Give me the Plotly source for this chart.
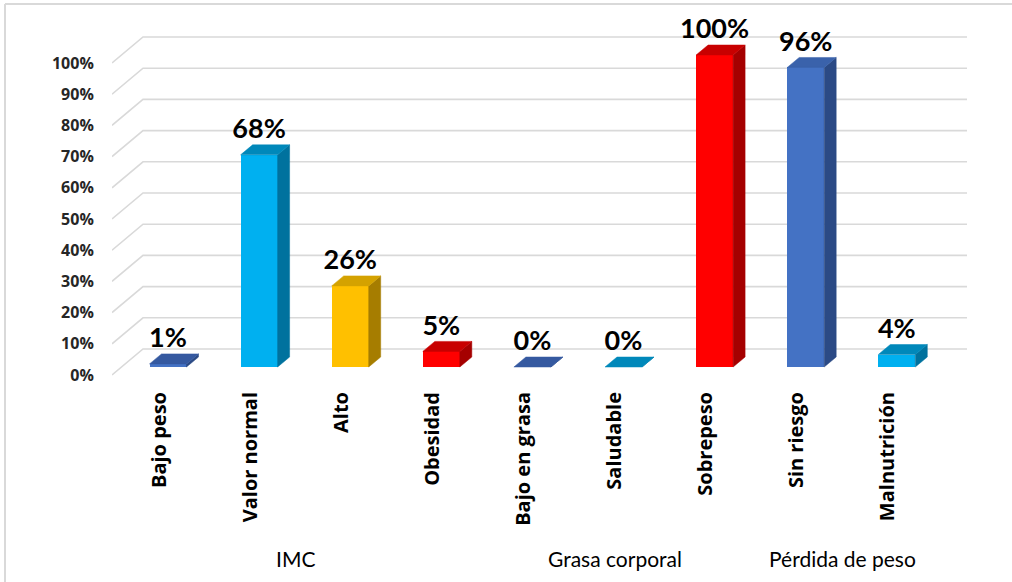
import plotly.graph_objects as go

# ---------------- data ----------------
categories = ["Bajo peso", "Valor normal", "Alto", "Obesidad", "Bajo en grasa",
              "Saludable", "Sobrepeso", "Sin riesgo", "Malnutrición"]
values = [1, 68, 26, 5, 0, 0, 100, 96, 4]
groups = ["IMC", "Grasa corporal", "Pérdida de peso"]
group_members = [[0, 1, 2, 3], [4, 5, 6], [7, 8]]
y_ticks = list(range(0, 101, 10))
y_tick_labels = [f"{t}%" for t in y_ticks]

# ---------------- style ----------------
front_colors = ["#4472C4", "#00B0F0", "#FFC000", "#FF0000", "#4472C4",
                "#00B0F0", "#FF0000", "#4472C4", "#00B0F0"]
side_colors = ["#2B4A85", "#00729E", "#A67D00", "#A50000", "#2B4A85",
               "#00729E", "#A50000", "#2B4A85", "#00729E"]
top_colors = ["#3559A0", "#0088BA", "#D4A200", "#C80000", "#3559A0",
              "#0088BA", "#C80000", "#3A62AB", "#0088BA"]

W, H = 1012, 582
ML, MR, MT, MB = 112, 37, 24, 200
PX_CAT = 91.1          # pixels per category
PX_PCT = 3.12          # pixels per percent
FIRST_CAT_PX = 168     # pixel x of first bar centre
ZERO_PX = 367          # pixel y of 0% on bar front plane

x0 = (ML - FIRST_CAT_PX) / PX_CAT
x1 = x0 + (W - ML - MR) / PX_CAT
y1 = (ZERO_PX - MT) / PX_PCT
y0 = y1 - (H - MT - MB) / PX_PCT

BAR_W = 37 / PX_CAT
DX = 12 / PX_CAT
DY = 10 / PX_PCT
FRONT_DY = -8 / PX_PCT
BACK_DY = 18 / PX_PCT
WALL_BACK_X = (143 - FIRST_CAT_PX) / PX_CAT
WALL_RIGHT_X = (967 - FIRST_CAT_PX) / PX_CAT
LABEL_SHIFT = -9 / PX_CAT

GRID = "#D9D9D9"

fig = go.Figure()

# back wall / side wall gridlines (below the bars)
for t in y_ticks:
    path = (f"M {x0} {t + FRONT_DY} L {WALL_BACK_X} {t + BACK_DY} "
            f"L {WALL_RIGHT_X} {t + BACK_DY}")
    fig.add_shape(type="path", path=path, xref="x", yref="y", layer="below",
                  line=dict(color=GRID, width=1.6))

# bars: front faces
xs = list(range(len(categories)))
fig.add_trace(go.Bar(x=xs, y=values, width=BAR_W,
                     marker=dict(color=front_colors, line=dict(width=0)),
                     hoverinfo="skip", showlegend=False))

# bars: side and top faces
for i, v in enumerate(values):
    r = i + BAR_W / 2
    l = i - BAR_W / 2
    fig.add_trace(go.Scatter(
        x=[r, r + DX, r + DX, r, r], y=[0, DY, v + DY, v, 0],
        mode="lines", fill="toself", fillcolor=side_colors[i],
        line=dict(width=0.5, color=side_colors[i]), hoverinfo="skip", showlegend=False))
    fig.add_trace(go.Scatter(
        x=[l, r, r + DX, l + DX, l], y=[v, v, v + DY, v + DY, v],
        mode="lines", fill="toself", fillcolor=top_colors[i],
        line=dict(width=0.5, color=top_colors[i]), hoverinfo="skip", showlegend=False))

# data labels
fig.add_trace(go.Scatter(
    x=xs, y=[v + DY for v in values], mode="text", cliponaxis=False,
    text=[f"{v}%" for v in values], textposition="top center",
    textfont=dict(family="Lato", size=27, color="#000000", weight="bold"),
    hoverinfo="skip", showlegend=False))

# group labels
for g, members in zip(groups, group_members):
    gxc = sum(members) / len(members) + LABEL_SHIFT
    fig.add_annotation(x=gxc, xref="x", y=1 - (558 - MT) / (H - MT - MB), yref="paper",
                       text=g, showarrow=False, yanchor="middle", xanchor="center",
                       font=dict(family="Lato", size=21, color="#000000"))

# chart border (top and left visible)
bx = lambda px: (px - ML) / (W - ML - MR)
by = lambda py: 1 - (py - MT) / (H - MT - MB)
fig.add_shape(type="line", xref="paper", yref="paper", x0=bx(5), x1=bx(W + 5), y0=by(4), y1=by(4),
              line=dict(color=GRID, width=2))
fig.add_shape(type="line", xref="paper", yref="paper", x0=bx(5), x1=bx(5), y0=by(4), y1=by(H + 5),
              line=dict(color=GRID, width=2))

fig.update_layout(
    width=W, height=H,
    margin=dict(l=ML, r=MR, t=MT, b=MB, pad=0),
    paper_bgcolor="white", plot_bgcolor="white",
    bargap=0, showlegend=False,
    xaxis=dict(range=[x0, x1], tickvals=[i + LABEL_SHIFT for i in xs], ticktext=categories,
               tickangle=-90, showgrid=False, zeroline=False, showline=False,
               ticks="outside", ticklen=1, tickcolor="rgba(0,0,0,0)",
               tickfont=dict(family="Open Sans", size=20, color="#000000", weight="bold"),
               fixedrange=True),
    yaxis=dict(range=[y0, y1], tickvals=[t + FRONT_DY for t in y_ticks], ticktext=y_tick_labels,
               showgrid=False, zeroline=False, showline=False,
               ticks="outside", ticklen=14, tickcolor="rgba(0,0,0,0)",
               tickfont=dict(family="Open Sans", size=16, color="#262626", weight="bold"),
               fixedrange=True),
)

fig.write_html("out.html")
